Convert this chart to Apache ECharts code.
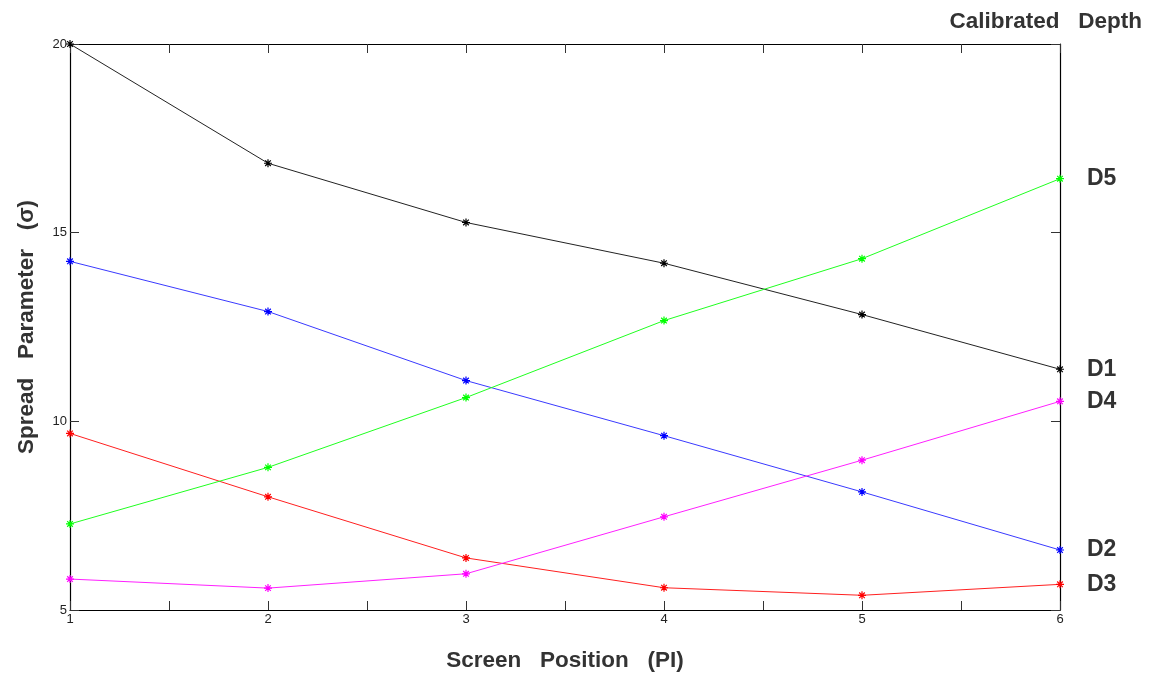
<!DOCTYPE html>
<html>
<head>
<meta charset="utf-8">
<script src="https://cdn.jsdelivr.net/npm/echarts@6/dist/echarts.min.js"></script>
<style>
html,body{margin:0;padding:0;background:#fff;}
#chart{width:1153px;height:675px;}
</style>
</head>
<body>
<div id="chart"></div>
<script>
const positions = [1, 2, 3, 4, 5, 6];
const seriesNames = ['D1', 'D2', 'D3', 'D4', 'D5'];
const d1 = [20.0, 16.84, 15.27, 14.19, 12.83, 11.38];
const d2 = [14.24, 12.91, 11.08, 9.62, 8.13, 6.59];
const d3 = [9.68, 8.0, 6.38, 5.59, 5.39, 5.68];
const d4 = [5.82, 5.58, 5.96, 7.47, 8.97, 10.53];
const d5 = [7.28, 8.78, 10.63, 12.67, 14.31, 16.43];
const yTicks = [5, 10, 15, 20];
const xTicks = [1, 2, 3, 4, 5, 6];

const seriesValues = [d1, d2, d3, d4, d5];
const colors = ['#000000', '#0000ff', '#ff0000', '#ff00ff', '#00ff00'];
const lineColors = ['#222222', '#3a3aff', '#ff2020', '#ff20ff', '#20ff20'];
const asterisk = 'path://M5,0L5,10M0,5L10,5M1.5,1.5L8.5,8.5M8.5,1.5L1.5,8.5';

const chart = echarts.init(document.getElementById('chart'));
const font = 'Liberation Sans, Arial, sans-serif';

const series = seriesValues.map((vals, i) => ({
  name: seriesNames[i],
  type: 'line',
  xAxisIndex: 0,
  yAxisIndex: 0,
  data: positions.map((p, j) => [p, vals[j]]),
  symbol: asterisk,
  symbolSize: 8,
  showAllSymbol: true,
  itemStyle: { color: 'none', borderColor: colors[i], borderWidth: 1.2 },
  lineStyle: { color: lineColors[i], width: 1 },
  endLabel: {
    show: true,
    formatter: '{a}',
    distance: 27,
    fontSize: 23,
    fontWeight: 'bold',
    fontFamily: font,
    color: '#333'
  },
  z: 3
}));

const axisLine = { show: true, onZero: false, lineStyle: { color: '#000', width: 1.2 } };

chart.setOption({
  animation: false,
  backgroundColor: '#fff',
  grid: { left: 70, right: 93, top: 44, bottom: 65, containLabel: false, outerBoundsMode: 'none' },
  xAxis: [
    {
      type: 'value', min: 1, max: 6, interval: 0.5, position: 'bottom',
      axisLine: axisLine,
      axisTick: { show: true, inside: true, length: 9, lineStyle: { color: '#333' } },
      axisLabel: {
        show: true, color: '#222', fontSize: 13, fontFamily: font, margin: 3,
        formatter: v => xTicks.indexOf(v) >= 0 ? String(v) : ''
      },
      splitLine: { show: false },
      name: 'Screen   Position   (PI)', nameLocation: 'middle', nameGap: 39,
      nameTextStyle: { fontSize: 22.5, fontWeight: 'bold', color: '#333', fontFamily: font }
    },
    {
      type: 'value', min: 1, max: 6, interval: 0.5, position: 'top',
      axisLine: axisLine,
      axisTick: { show: true, inside: true, length: 9, lineStyle: { color: '#333' } },
      axisLabel: { show: false },
      splitLine: { show: false }
    }
  ],
  yAxis: [
    {
      type: 'value', min: 5, max: 20, interval: 5, position: 'left',
      axisLine: axisLine,
      axisTick: { show: true, inside: true, length: 9, lineStyle: { color: '#333' } },
      axisLabel: {
        show: true, color: '#222', fontSize: 13, fontFamily: font, margin: 3,
        formatter: v => yTicks.indexOf(v) >= 0 ? String(v) : ''
      },
      splitLine: { show: false },
      name: 'Spread   Parameter   (σ)', nameLocation: 'middle', nameGap: 32, nameRotate: 90,
      nameTextStyle: { fontSize: 22.5, fontWeight: 'bold', color: '#333', fontFamily: font }
    },
    {
      type: 'value', min: 5, max: 20, interval: 5, position: 'right',
      axisLine: axisLine,
      axisTick: { show: true, inside: true, length: 9, lineStyle: { color: '#333' } },
      axisLabel: { show: false },
      splitLine: { show: false }
    }
  ],
  graphic: [
    {
      type: 'text', right: 11, top: 10,
      style: {
        text: 'Calibrated   Depth', fontSize: 22.5, fontWeight: 'bold',
        fontFamily: font, fill: '#333'
      }
    }
  ],
  series: series
});
</script>
</body>
</html>
